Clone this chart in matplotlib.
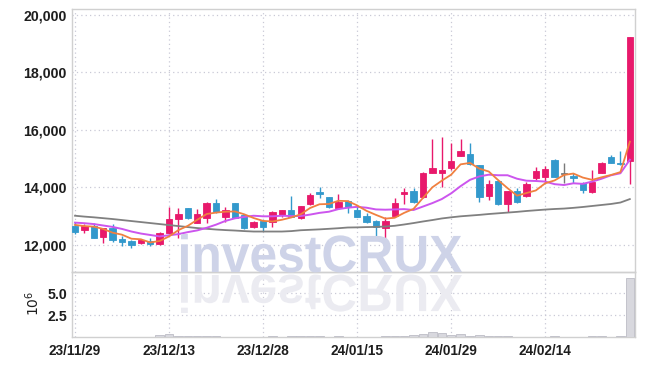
import matplotlib
matplotlib.use("Agg")
import matplotlib.pyplot as plt
import numpy as np
from matplotlib.textpath import TextPath
from matplotlib.patches import PathPatch
from matplotlib.font_manager import FontProperties
from matplotlib.transforms import Affine2D

# daily candles, 23/11/29 .. 24/02/27
opens = [12660, 12510, 12660, 12260, 12590, 12200, 12130, 12050, 12140, 12010,
         12400, 12890, 13270, 12750, 12940, 13440, 12980, 13440, 13030, 12610,
         12840, 12780, 13030, 13210, 12920, 13410, 13850, 13650, 13270, 13530,
         13210, 13000, 12840, 12590, 13000, 13760, 13870, 13670, 14510, 14510,
         14660, 15100, 15160, 14780, 13710, 14230, 13420, 13870, 13700, 14310,
         14370, 14950, 14470, 14390, 14160, 13850, 14510, 15070, 14860, 14930]
highs = [12790, 12710, 12750, 12590, 12710, 12300, 12160, 12210, 12240, 12430,
         13300, 13270, 13280, 13230, 13500, 13580, 13300, 13450, 13040, 12840,
         12860, 13190, 13220, 13700, 13360, 13810, 14000, 13660, 13770, 13560,
         13350, 13090, 12850, 12950, 13620, 13970, 13970, 14540, 15670, 15740,
         15530, 15670, 15550, 14790, 14250, 14250, 13880, 13970, 14200, 14700,
         14740, 14980, 14840, 14510, 14200, 14600, 14890, 15130, 15280, 19240]
lows = [12370, 12400, 12220, 12070, 12080, 11970, 11870, 12040, 11970, 12000,
        12360, 12220, 12900, 12740, 12750, 13090, 12800, 12920, 12550, 12580,
        12480, 12610, 12950, 12970, 12880, 13380, 13620, 13270, 13240, 13090,
        12950, 12770, 12300, 12140, 12970, 13420, 13460, 13620, 14500, 14020,
        14600, 15090, 14790, 13500, 13560, 13380, 13150, 13460, 13670, 14250,
        14140, 14360, 14140, 14140, 13790, 13790, 14500, 14850, 14790, 14110]
closes = [12450, 12660, 12240, 12570, 12160, 12100, 11980, 12160, 12020, 12400,
          12890, 13060, 12920, 13060, 13440, 13130, 13210, 12940, 12570, 12800,
          12630, 13130, 13210, 12980, 13350, 13730, 13760, 13300, 13500, 13300,
          12980, 12800, 12610, 12840, 13460, 13840, 13500, 14510, 14680, 14600,
          14920, 15270, 14800, 13670, 14110, 13420, 13870, 13500, 14100, 14580,
          14640, 14370, 14470, 14330, 13910, 14200, 14860, 14860, 14800, 19240]
volume_m = [0.08, 0.06, 0.07, 0.06, 0.06, 0.05, 0.05, 0.04, 0.04, 0.22,
            0.36, 0.20, 0.12, 0.10, 0.15, 0.10, 0.08, 0.09, 0.07, 0.05,
            0.05, 0.10, 0.08, 0.20, 0.10, 0.18, 0.15, 0.08, 0.10, 0.07,
            0.06, 0.05, 0.08, 0.10, 0.12, 0.20, 0.25, 0.38, 0.64, 0.45,
            0.28, 0.38, 0.20, 0.28, 0.15, 0.15, 0.12, 0.08, 0.06, 0.05,
            0.08, 0.10, 0.08, 0.06, 0.06, 0.10, 0.10, 0.08, 0.10, 6.70]

ma5 = [12690, 12650, 12630, 12550, 12420, 12350, 12210, 12190, 12080, 12130,
       12290, 12510, 12660, 12870, 13070, 13120, 13150, 13160, 13060, 12930,
       12830, 12810, 12870, 12950, 13060, 13280, 13410, 13420, 13530, 13520,
       13370, 13180, 13040, 12910, 12940, 13110, 13250, 13630, 14000, 14230,
       14440, 14800, 14850, 14650, 14550, 14250, 13970, 13710, 13800, 13890,
       14140, 14240, 14430, 14480, 14340, 14260, 14350, 14430, 14530, 15590]
ma10 = [12770, 12750, 12720, 12670, 12620, 12550, 12460, 12390, 12340, 12290,
        12330, 12370, 12440, 12500, 12590, 12700, 12830, 12920, 12970, 13010,
        12990, 12990, 13010, 13000, 13000, 13050, 13110, 13150, 13240, 13290,
        13320, 13290, 13230, 13220, 13230, 13240, 13210, 13330, 13450, 13590,
        13790, 14040, 14260, 14380, 14440, 14420, 14420, 14300, 14230, 14220,
        14200, 14110, 14080, 14140, 14120, 14200, 14300, 14420, 14490, 14960]
ma60 = [13010, 12980, 12955, 12925, 12895, 12860, 12825, 12790, 12755, 12720,
        12685, 12650, 12615, 12580, 12555, 12530, 12510, 12495, 12475, 12460,
        12460, 12460, 12460, 12475, 12505, 12520, 12535, 12555, 12575, 12600,
        12605, 12615, 12620, 12635, 12660, 12705, 12755, 12810, 12860, 12915,
        12955, 12990, 13015, 13040, 13070, 13095, 13120, 13145, 13175, 13200,
        13225, 13245, 13260, 13285, 13315, 13350, 13385, 13420, 13470, 13590]

tick_pos = [0, 10, 20, 30, 40, 50]
tick_labels = ['23/11/29', '23/12/13', '23/12/28', '24/01/15', '24/01/29', '24/02/14']

UP = '#e8196b'
DOWN = '#3399cc'
FLAT = '#7a7a7a'
GRID = '#c9c9d6'
SPINE = '#d0d0d0'
fam = ['Liberation Sans', 'DejaVu Sans']

fig = plt.figure(figsize=(6.45, 3.66), dpi=100, facecolor='white')
ax = fig.add_axes([0.1112, 0.256, 0.8733, 0.7186])
axv = fig.add_axes([0.1112, 0.0784, 0.8733, 0.1776], sharex=ax)
for a in (ax, axv):
    a.set_facecolor('none')
    for s in a.spines.values():
        s.set_color(SPINE)
        s.set_linewidth(1.0)
    a.grid(True, linestyle=(0, (1, 2.5)), color=GRID, linewidth=0.9)
    a.set_axisbelow(True)
    a.tick_params(length=0, colors='#1e1e1e')

# watermark with reflection
fp = FontProperties(family=fam, weight='bold')
tp = TextPath((0, 0), 'investCRUX', size=50, prop=fp)
bb = tp.get_extents()
sx = 281 / bb.width
sy = 38 / bb.y1
tx = 181 - bb.x0 * sx
fig.patches.append(PathPatch(tp, transform=Affine2D().scale(sx, sy).translate(tx, 94),
                             facecolor='#ced3e8', edgecolor='none', zorder=0))
fig.patches.append(PathPatch(tp, transform=Affine2D().scale(sx, -sy).translate(tx, 91),
                             facecolor='#ebebf1', edgecolor='none', zorder=0))

x = np.arange(len(closes))
for i in x:
    o, h, l, c = opens[i], highs[i], lows[i], closes[i]
    col = UP if c > o else (DOWN if c < o else FLAT)
    ax.vlines(i, l, h, color=col, linewidth=1.0, zorder=3)
    bot = min(o, c)
    hgt = max(abs(c - o), 40)
    ax.bar(i, hgt, bottom=bot, width=0.68, color=col, edgecolor=col, linewidth=0.6, zorder=4)

ax.plot(x, ma60, color='#808080', linewidth=1.3, zorder=5)
ax.plot(x, ma10, color='#cc55ee', linewidth=1.4, zorder=5)
ax.plot(x, ma5, color='#f08040', linewidth=1.3, zorder=6)

ax.set_xlim(-0.35, 59.55)
ax.set_ylim(11040, 20200)
ax.set_yticks([12000, 14000, 16000, 18000, 20000])
ax.set_yticklabels(['12,000', '14,000', '16,000', '18,000', '20,000'],
                   family=fam, weight='bold', fontsize=10.2)
ax.tick_params(axis='x', labelbottom=False)

axv.bar(x, np.array(volume_m) * 1e6, width=0.9, color='#d8d8de', edgecolor='#bdbdc6', linewidth=0.6, zorder=3)
axv.set_ylim(0, 7.4e6)
axv.set_yticks([2.5e6, 5e6])
axv.set_yticklabels(['2.5', '5.0'], family=fam, weight='bold', fontsize=10.2)
axv.set_xticks(tick_pos)
axv.set_xticklabels(tick_labels, family=fam, weight='bold', fontsize=9.8)
axv.tick_params(axis='x', pad=5)
fig.text(0.051, 0.172, r'$10^{6}$', rotation=90, ha='center', va='center', fontsize=10, color='#1e1e1e')

fig.savefig('out.png', dpi=100, facecolor='white')
